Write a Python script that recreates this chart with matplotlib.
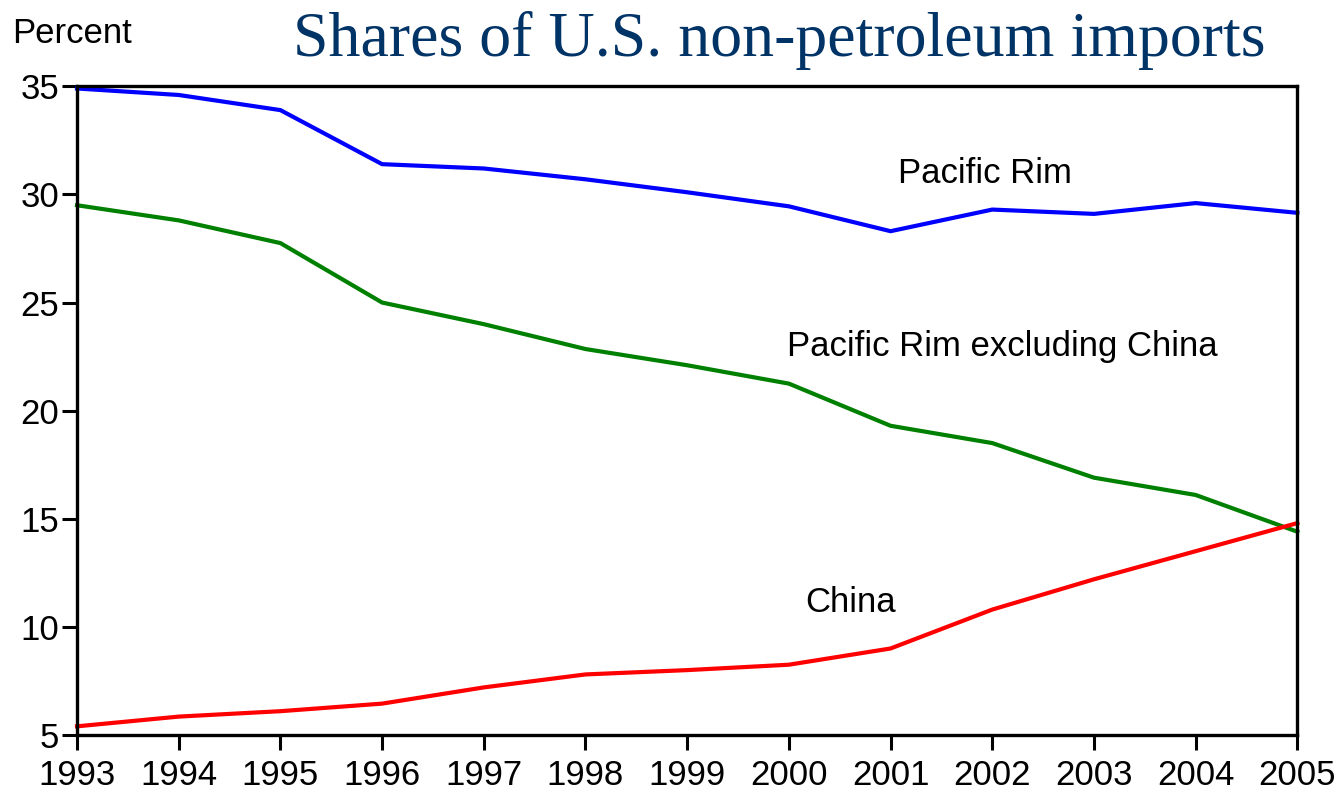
import matplotlib
matplotlib.use('Agg')
import matplotlib.pyplot as plt

years = [1993, 1994, 1995, 1996, 1997, 1998, 1999, 2000, 2001, 2002, 2003, 2004, 2005]
pacific_rim = [34.9, 34.6, 33.9, 31.4, 31.2, 30.7, 30.1, 29.45, 28.3, 29.3, 29.1, 29.6, 29.15]
pacific_ex_china = [29.5, 28.8, 27.75, 25.0, 24.0, 22.85, 22.1, 21.25, 19.3, 18.5, 16.9, 16.1, 14.4]
china = [5.4, 5.85, 6.1, 6.45, 7.2, 7.8, 8.0, 8.25, 9.0, 10.8, 12.2, 13.5, 14.8]

yticks = [5, 10, 15, 20, 25, 30, 35]

plt.rcParams['font.family'] = ['Liberation Sans', 'DejaVu Sans']

fig = plt.figure(figsize=(13.44, 7.92), dpi=100)
ax = fig.add_axes([0.0573, 0.072, 0.908, 0.819])

ax.plot(years, pacific_rim, color='#0000FF', lw=3, solid_joinstyle='miter', clip_on=False)
ax.plot(years, pacific_ex_china, color='#008000', lw=3, solid_joinstyle='miter', clip_on=False)
ax.plot(years, china, color='#FF0000', lw=3, solid_joinstyle='miter', clip_on=False)

ax.set_xlim(1993, 2005)
ax.set_ylim(5, 35)
ax.set_xticks(years)
ax.set_yticks(yticks)
ax.tick_params(axis='both', direction='out', length=11, width=2.2, labelsize=25)
ax.tick_params(axis='x', pad=6)
ax.tick_params(axis='y', pad=2)
for s in ax.spines.values():
    s.set_linewidth(2.4)

ax.text(2001.93, 30.97, 'Pacific Rim', fontsize=25, ha='center', va='center')
ax.text(2002.1, 22.96, 'Pacific Rim excluding China', fontsize=25, ha='center', va='center')
ax.text(2000.61, 11.11, 'China', fontsize=25, ha='center', va='center')

fig.text(0.009, 0.958, 'Percent', fontsize=25, ha='left', va='center')
fig.text(0.58, 0.949, 'Shares of U.S. non-petroleum imports', fontsize=46,
         family='Liberation Serif', color='#003366', ha='center', va='center')

fig.savefig('out.png', dpi=100)
